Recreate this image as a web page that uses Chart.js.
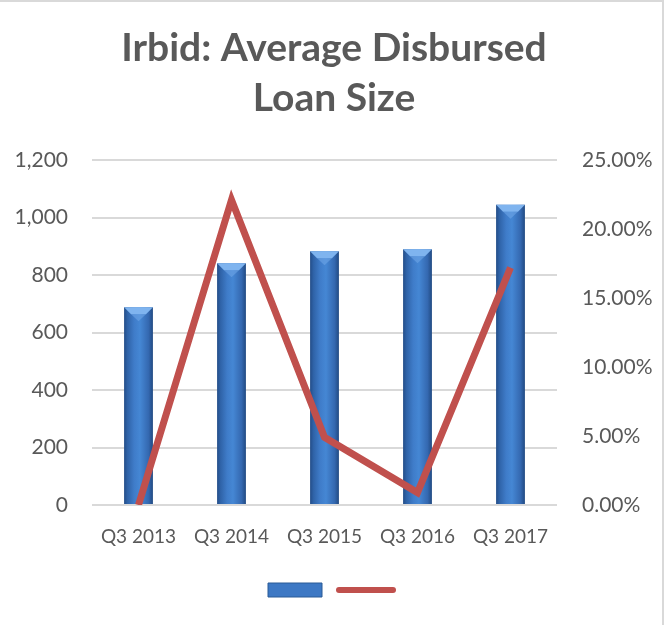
<!DOCTYPE html>
<html>
<head>
<meta charset="utf-8">
<title>Irbid: Average Disbursed Loan Size</title>
<script src="https://cdn.jsdelivr.net/npm/chart.js@4.4.1/dist/chart.umd.min.js"></script>
<style>
    html, body { margin: 0; padding: 0; background: #fff; }
    .wrap { position: relative; width: 668px; height: 625px; }
    .frame {
        position: absolute; left: 0; top: 0; width: 664px; height: 625px;
        border-top: 2px solid #d9d9d9; border-right: 2px solid #d9d9d9;
        box-sizing: border-box; pointer-events: none;
    }
    canvas { display: block; }
</style>
</head>
<body>
<div class="wrap">
    <canvas id="loanChart" width="668" height="625"></canvas>
    <div class="frame"></div>
</div>
<script>
const quarters = ["Q3 2013", "Q3 2014", "Q3 2015", "Q3 2016", "Q3 2017"]
const avgLoanSize = [688, 841, 883, 890, 1044]
const growthRate = [0.0, 0.221, 0.049, 0.009, 0.172]
const leftTicks = [0, 200, 400, 600, 800, 1000, 1200]
const rightTicks = [0, 0.05, 0.10, 0.15, 0.20, 0.25]

const GREY = "#595959"
const LINE_RED = "#c0504d"
const BAR_PCT = 0.31

// horizontal shading across each bar, dark edges and bright middle
function barFill(ctx) {
    const chart = ctx.chart
    const xs = chart.scales.x
    if (!xs || !chart.chartArea || ctx.dataIndex == null) return "#3f7bc8"
    const cx = xs.getPixelForValue(ctx.dataIndex)
    const half = (chart.chartArea.width / quarters.length) * BAR_PCT / 2
    if (!isFinite(cx) || !isFinite(half)) return "#3f7bc8"
    const g = chart.ctx.createLinearGradient(cx - half, 0, cx + half, 0)
    g.addColorStop(0, "#234d88")
    g.addColorStop(0.12, "#2f63a8")
    g.addColorStop(0.35, "#3f7cc9")
    g.addColorStop(0.55, "#4587d4")
    g.addColorStop(0.85, "#3468b0")
    g.addColorStop(1, "#214a82")
    return g
}

// bevel facet on top of every bar
const bevel = {
    id: "bevel",
    afterDatasetDraw(chart, args) {
        if (args.index !== 1) return
        const c = chart.ctx
        args.meta.data.forEach(bar => {
            const l = bar.x - bar.width / 2, r = bar.x + bar.width / 2
            const t = bar.y, d = 7
            c.save()
            c.beginPath()
            c.moveTo(l, t); c.lineTo(r, t); c.lineTo(r - d, t + d); c.lineTo(l + d, t + d); c.closePath()
            c.fillStyle = "#7fb4ef"
            c.fill()
            c.beginPath()
            c.moveTo(l + d, t + d); c.lineTo(r - d, t + d); c.lineTo(bar.x, t + d + 7); c.closePath()
            c.fillStyle = "rgba(110,165,230,0.6)"
            c.fill()
            c.restore()
        })
    }
}

const chartEl = document.getElementById("loanChart")
new Chart(chartEl, {
    data: {
        labels: quarters,
        datasets: [
            {
                type: "line",
                label: "",
                data: growthRate,
                yAxisID: "y1",
                borderColor: LINE_RED,
                backgroundColor: LINE_RED,
                borderWidth: 7,
                pointRadius: 0,
                tension: 0,
                borderJoinStyle: "miter",
                order: 0
            },
            {
                type: "bar",
                label: "",
                data: avgLoanSize,
                yAxisID: "y",
                backgroundColor: barFill,
                categoryPercentage: 1,
                barPercentage: BAR_PCT,
                order: 1
            }
        ]
    },
    plugins: [bevel],
    options: {
        responsive: false,
        animation: false,
        layout: { padding: { left: 0, right: 0, top: 0, bottom: 18 } },
        scales: {
            x: {
                grid: { display: false },
                border: { display: false },
                ticks: { color: GREY, font: { family: "Lato", size: 19 }, padding: 12, maxRotation: 0 },
                afterFit: s => { s.height = 68 }
            },
            y: {
                position: "left",
                min: 0, max: 1200,
                afterBuildTicks: s => { s.ticks = leftTicks.map(v => ({ value: v })) },
                ticks: { color: GREY, font: { family: "Lato", size: 21 }, padding: 24, callback: v => v.toLocaleString("en-US") },
                grid: { color: "#d9d9d9", lineWidth: 2, drawTicks: false },
                border: { display: false },
                afterFit: s => { s.width = 92 }
            },
            y1: {
                position: "right",
                min: 0, max: 0.25,
                afterBuildTicks: s => { s.ticks = rightTicks.map(v => ({ value: v })) },
                ticks: { color: GREY, font: { family: "Lato", size: 21 }, padding: 17, callback: v => (v * 100).toFixed(2) + "%" },
                grid: { display: false },
                border: { display: false },
                afterFit: s => { s.width = 111 }
            }
        },
        plugins: {
            title: {
                display: true,
                text: ["Irbid: Average Disbursed", "Loan Size"],
                color: GREY,
                font: { family: "Lato", size: 39, weight: "bold", lineHeight: "50px" },
                padding: { top: 23, bottom: 37 }
            },
            legend: {
                position: "bottom",
                labels: {
                    usePointStyle: true,
                    pointStyleWidth: 54,
                    boxHeight: 14,
                    padding: 10,
                    font: { size: 14 },
                    generateLabels: chart => [
                        { text: "", fillStyle: "#3d78c4", strokeStyle: "#2a5a96", lineWidth: 1, pointStyle: "rect", datasetIndex: 1 },
                        { text: "", fillStyle: LINE_RED, strokeStyle: LINE_RED, lineWidth: 6, lineCap: "round", pointStyle: "line", datasetIndex: 0 }
                    ]
                }
            },
            tooltip: { enabled: false }
        }
    }
})
</script>
</body>
</html>
